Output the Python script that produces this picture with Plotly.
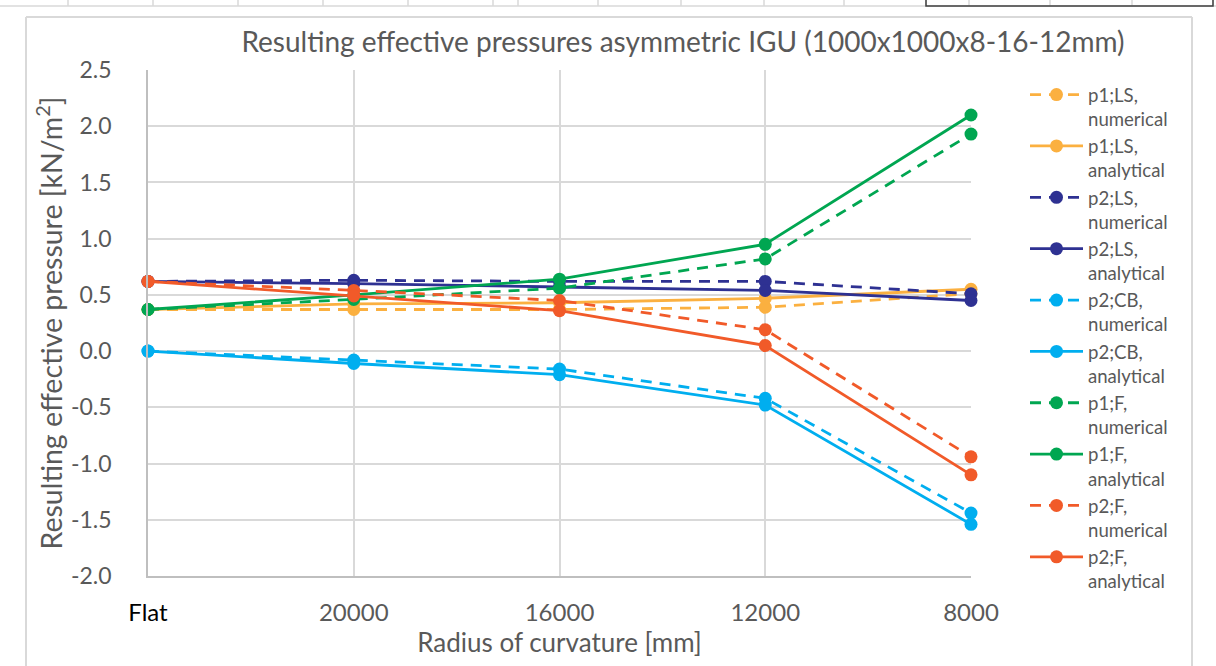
import plotly.graph_objects as go

# Radius of curvature categories (x positions 0..4)
categories = ["Flat", "20000", "16000", "12000", "8000"]

# Resulting effective pressures [kN/m2]
p1_ls_num = [0.37, 0.37, 0.37, 0.39, 0.51]
p1_ls_ana = [0.37, 0.42, 0.43, 0.47, 0.55]
p2_ls_num = [0.62, 0.63, 0.62, 0.62, 0.51]
p2_ls_ana = [0.62, 0.60, 0.57, 0.54, 0.45]
p2_cb_num = [0.00, -0.08, -0.16, -0.42, -1.44]
p2_cb_ana = [0.00, -0.11, -0.21, -0.48, -1.54]
p1_f_num = [0.37, 0.46, 0.56, 0.82, 1.93]
p1_f_ana = [0.37, 0.50, 0.64, 0.95, 2.10]
p2_f_num = [0.62, 0.54, 0.45, 0.19, -0.94]
p2_f_ana = [0.62, 0.49, 0.36, 0.05, -1.10]

# Y-axis tick values and labels
y_ticks = [-2.0, -1.5, -1.0, -0.5, 0.0, 0.5, 1.0, 1.5, 2.0, 2.5]
y_labels = ["-2.0", "-1.5", "-1.0", "-0.5", "0.0", "0.5", "1.0", "1.5", "2.0", "2.5"]

series = [
    ("p1;LS,<br>numerical", p1_ls_num, "#FBB040", "dash"),
    ("p1;LS,<br>analytical", p1_ls_ana, "#FBB040", "solid"),
    ("p2;LS,<br>numerical", p2_ls_num, "#2E3192", "dash"),
    ("p2;LS,<br>analytical", p2_ls_ana, "#2E3192", "solid"),
    ("p2;CB,<br>numerical", p2_cb_num, "#00AEEF", "dash"),
    ("p2;CB,<br>analytical", p2_cb_ana, "#00AEEF", "solid"),
    ("p1;F,<br>numerical", p1_f_num, "#00A651", "dash"),
    ("p1;F,<br>analytical", p1_f_ana, "#00A651", "solid"),
    ("p2;F,<br>numerical", p2_f_num, "#F15A29", "dash"),
    ("p2;F,<br>analytical", p2_f_ana, "#F15A29", "solid"),
]

FONT = "Lato"
GREY = "#595959"
GRID = "#D9D9D9"

xpos = list(range(len(categories)))

fig = go.Figure()
for i, (name, vals, color, dash) in enumerate(series):
    fig.add_trace(go.Scatter(
        x=xpos, y=vals, name=name, mode="lines+markers",
        line=dict(color=color, width=2.8, dash="11px,8px" if dash == "dash" else "solid"),
        marker=dict(color=color, size=13),
        cliponaxis=False, legendgroup=f"g{i}",
    ))

# Page frame around the chart object
W, H = 1216, 666
L, R, T, B = 148, 971, 70, 576
def px(x):
    return (x - L) / (R - L)
def py(y):
    return (B - y) / (B - T)

shapes = [
    dict(type="line", xref="paper", yref="paper", x0=px(26), x1=px(26), y0=py(17), y1=py(680),
         line=dict(color=GRID, width=2)),
    dict(type="line", xref="paper", yref="paper", x0=px(1192), x1=px(1192), y0=py(17), y1=py(680),
         line=dict(color=GRID, width=2)),
    dict(type="line", xref="paper", yref="paper", x0=px(26), x1=px(1192), y0=py(17), y1=py(17),
         line=dict(color=GRID, width=2)),
    dict(type="line", xref="paper", yref="paper", x0=px(0), x1=px(1216), y0=py(6), y1=py(6),
         line=dict(color=GRID, width=1.5)),
]
for cx in [68, 153, 238, 323, 408, 493, 518, 598, 681, 764, 844, 926, 969, 1050, 1132, 1213]:
    shapes.append(dict(type="line", xref="paper", yref="paper", x0=px(cx), x1=px(cx),
                       y0=py(0), y1=py(6), line=dict(color=GRID, width=1.5)))
shapes.append(dict(type="rect", xref="paper", yref="paper", x0=px(926), x1=px(1213),
                   y0=py(-2), y1=py(6), line=dict(color="#404040", width=1.5)))

fig.update_layout(
    width=W, height=H,
    margin=dict(l=L, r=W - R, t=T, b=H - B),
    paper_bgcolor="white", plot_bgcolor="white",
    font=dict(family=FONT, color=GREY, size=20),
    title=dict(text="Resulting effective pressures asymmetric IGU (1000x1000x8-16-12mm)",
               x=px(683), xref="paper", xanchor="center", y=1 - 42 / H, yanchor="middle",
               font=dict(size=28, color=GREY, family=FONT)),
    showlegend=True,
    legend=dict(x=px(1025), xref="paper", y=py(76), yref="paper", xanchor="left", yanchor="top",
                font=dict(size=18.6, color=GREY, family=FONT), tracegroupgap=0,
                bgcolor="rgba(0,0,0,0)", valign="top", itemwidth=53, maxheight=620),
    shapes=shapes,
)

fig.update_xaxes(
    range=[0, 4], tickmode="array", tickvals=xpos,
    ticktext=['<span style="color:#000000">Flat</span>'] + categories[1:],
    showgrid=True, gridcolor=GRID, gridwidth=1.5,
    showline=True, linecolor="#BFBFBF", linewidth=1.5,
    zeroline=False, ticks="", ticklabelstandoff=14,
    tickfont=dict(size=24, family=FONT, color=GREY),
    title=dict(text="Radius of curvature [mm]", standoff=9,
               font=dict(size=26, family=FONT, color=GREY)),
)
fig.update_yaxes(
    range=[-2.0, 2.5], tickmode="array", tickvals=y_ticks, ticktext=y_labels,
    showgrid=True, gridcolor=GRID, gridwidth=1.5,
    showline=True, linecolor="#BFBFBF", linewidth=1.5,
    zeroline=False, ticks="", ticklabelstandoff=30,
    tickfont=dict(size=23, family=FONT, color=GREY),
    title=dict(text="Resulting effective pressure [kN/m<sup>2</sup>]", standoff=0,
               font=dict(size=28.5, family=FONT, color=GREY)),
)

fig.write_html("out.html")
